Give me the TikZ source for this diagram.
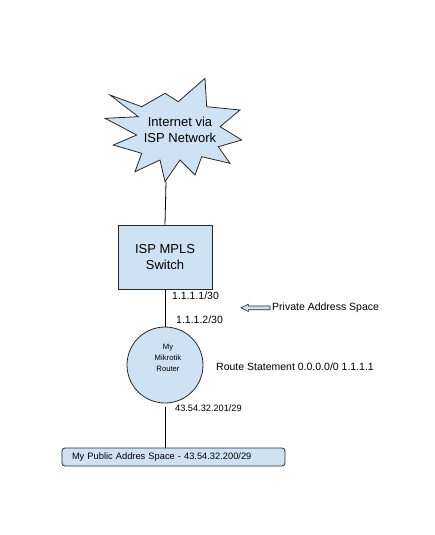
\documentclass[tikz,border=0pt]{standalone}
\usepackage{fontspec}
\setmainfont{Liberation Sans}
\definecolor{skyfill}{RGB}{207,226,243}
\definecolor{edgegray}{RGB}{40,40,40}
\begin{document}
\begin{tikzpicture}[x=1pt, y=-1pt, every node/.style={inner sep=0pt},
  shapebox/.style={draw=edgegray, fill=skyfill, line width=0.8pt},
  bigtext/.style={font=\fontsize{13}{16}\selectfont, align=center},
  addrtext/.style={font=\fontsize{10.5}{12}\selectfont, anchor=west}]
\useasboundingbox (0,0) rectangle (435,535);
% internet cloud
\draw[shapebox] (110,95) -- (141.7,106.7) -- (165,93.3) -- (178.3,101.7) -- (205,78.3)
  -- (206.7,106.7) -- (240,110) -- (220,126.7) -- (241.7,140) -- (218.3,146.7)
  -- (230,163.3) -- (201.7,156.7) -- (195,175) -- (180,160) -- (165,181.7)
  -- (160,160) -- (135,171.7) -- (141.7,153.3) -- (113.3,145) -- (136.7,135)
  -- (105,118.3) -- (138.3,116.7) -- cycle;
\node[bigtext] (inet) at (180,129.5) {Internet via\\ISP Network};
\coordinate (inettip) at (166,181.7);
% switch and router
\node[shapebox, bigtext, minimum width=94, minimum height=64] (switch) at (165,257) {ISP MPLS\\Switch};
\node[shapebox, circle, minimum size=76] (router) at (165,365) {};
\node[font=\fontsize{7.7}{11}\selectfont, align=center] (routername) at (168,358) {My\\Mikrotik\\Router};
% public network
\node[shapebox, rounded corners=3pt, text width=203, inner xsep=10, minimum height=18, align=left,
  font=\fontsize{9.3}{11}\selectfont] (pubnet) at (173.5,457) {My Public Addres Space - 43.54.32.200/29};
\draw[line width=0.8pt] (inettip) -- (switch.north);
\draw[line width=0.8pt] (switch) -- (router);
\draw[line width=0.8pt] (router.south) ++(0,4) coordinate (lanport) -- (lanport |- pubnet.north);
% addresses
\node[addrtext] (ispaddr) at (172,296) {1.1.1.1/30};
\node[addrtext] (myaddr) at (176,320) {1.1.1.2/30};
\node[addrtext, font=\fontsize{9.2}{11}\selectfont] (lanaddr) at (175,408) {43.54.32.201/29};
\node[addrtext] (route) at (216,367) {Route Statement 0.0.0.0/0 1.1.1.1};
% private address note
\node[addrtext] (private) at (272,307.5) {Private Address Space};
\draw[shapebox, line width=0.6pt] (241,307.8) -- (248.3,304.3) -- (248.3,306) -- (270,306)
  -- (270,309.7) -- (248.3,309.7) -- (248.3,311.5) -- cycle;
\end{tikzpicture}
\end{document}
